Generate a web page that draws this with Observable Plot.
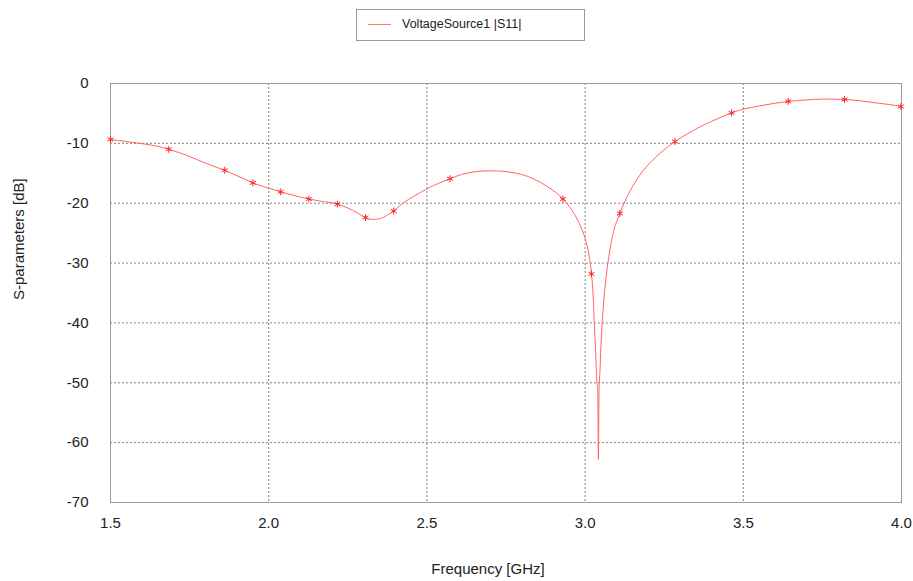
<!DOCTYPE html>
<html>
<head>
<meta charset="utf-8">
<script src="https://cdn.jsdelivr.net/npm/d3@7"></script>
<script src="https://cdn.jsdelivr.net/npm/@observablehq/plot@0.6"></script>
<style>
  body { margin: 0; background: #fff; font-family: "Liberation Sans", Arial, sans-serif; }
  #wrap { position: relative; width: 913px; }
  #legend { position: relative; height: 50px; }
  #legend .box { position: absolute; left: 356px; top: 9px; width: 229px; height: 32px; box-sizing: border-box; border: 1px solid #9a9a9a; background: #fff; }
  #legend .swatch { position: absolute; left: 11px; top: 14px; width: 23px; height: 0; border-top: 1px solid #ff7878; }
  #legend .label { position: absolute; left: 45px; top: 7px; font-size: 12.5px; color: #222; white-space: nowrap; }
</style>
</head>
<body>
<div id="wrap">
  <div id="legend"><div class="box"><div class="swatch"></div><div class="label"></div></div></div>
  <div id="chart"></div>
</div>
<script>
// Series name and axis labels
const seriesName = "VoltageSource1 |S11|";
const xLabel = "Frequency [GHz]";
const yLabel = "S-parameters [dB]";

// Tick values
const xTicks = [1.5, 2.0, 2.5, 3.0, 3.5, 4.0];
const yTicks = [0, -10, -20, -30, -40, -50, -60, -70];

// Curve samples (frequency in GHz, |S11| in dB)
const freq = [1.50, 1.55, 1.60, 1.65, 1.684, 1.72, 1.76, 1.80, 1.83, 1.861, 1.90, 1.95, 2.00, 2.038, 2.08, 2.127, 2.17, 2.217, 2.25, 2.28, 2.306, 2.327, 2.35, 2.375, 2.395, 2.424, 2.46, 2.50, 2.54, 2.573, 2.61, 2.65, 2.69, 2.72, 2.76, 2.80, 2.84, 2.88, 2.93, 2.96, 2.987, 3.002, 3.012, 3.020, 3.025, 3.029, 3.033, 3.037, 3.040, 3.042, 3.044, 3.047, 3.050, 3.054, 3.058, 3.064, 3.072, 3.084, 3.092, 3.101, 3.110, 3.125, 3.15, 3.18, 3.21, 3.24, 3.276, 3.284, 3.33, 3.38, 3.42, 3.463, 3.50, 3.55, 3.60, 3.642, 3.70, 3.75, 3.82, 3.87, 3.92, 3.96, 4.00];
const s11 = [-9.35, -9.7, -10.05, -10.5, -11.0, -11.6, -12.4, -13.3, -13.9, -14.5, -15.4, -16.6, -17.5, -18.1, -18.7, -19.3, -19.7, -20.15, -20.8, -21.6, -22.4, -22.7, -22.6, -22.0, -21.3, -20.0, -18.8, -17.6, -16.6, -15.9, -15.2, -14.75, -14.6, -14.6, -14.8, -15.2, -16.0, -17.2, -19.3, -21.3, -24.0, -26.2, -28.6, -31.8, -35.0, -40.0, -44.5, -49.5, -51.5, -62.8, -51.5, -48.0, -44.0, -40.0, -37.0, -33.5, -30.0, -26.2, -24.3, -22.9, -21.7, -19.8, -17.2, -14.8, -13.0, -11.5, -10.0, -9.7, -8.2, -6.8, -5.85, -4.9, -4.3, -3.75, -3.3, -3.0, -2.75, -2.6, -2.67, -2.9, -3.25, -3.5, -3.85];

// Asterisk markers along the curve
const markerFreq = [1.50, 1.684, 1.861, 1.950, 2.038, 2.127, 2.217, 2.306, 2.395, 2.573, 2.930, 3.020, 3.110, 3.284, 3.463, 3.642, 3.820, 3.998];
const markerDb = [-9.35, -11.0, -14.5, -16.6, -18.1, -19.3, -20.15, -22.4, -21.3, -15.9, -19.3, -31.8, -21.7, -9.7, -4.9, -3.0, -2.67, -3.85];

const curve = freq.map((f, i) => ({f, db: s11[i]}));
const markers = markerFreq.map((f, i) => ({f, db: markerDb[i]}));

document.querySelector("#legend .label").textContent = seriesName;

const gridStyle = {stroke: "#808080", strokeOpacity: 1, strokeDasharray: "2,2", strokeWidth: 1};

const chart = Plot.plot({
  width: 913,
  height: 531,
  marginTop: 33,
  marginBottom: 79,
  marginLeft: 110,
  marginRight: 12,
  style: {fontFamily: "'Liberation Sans', Arial, sans-serif", fontSize: "15px", color: "#222", background: "#fff"},
  x: {domain: [1.5, 4.0]},
  y: {domain: [-70, 0]},
  marks: [
    Plot.gridX(xTicks.slice(1, -1), gridStyle),
    Plot.gridY(yTicks.slice(1, -1), gridStyle),
    Plot.frame({stroke: "#9a9a9a", strokeWidth: 1}),
    Plot.axisX({ticks: xTicks, tickFormat: d3.format(".1f"), tickSize: 0, tickPadding: 15, label: null, fontSize: 15}),
    Plot.axisY({ticks: yTicks, tickFormat: d => String(d).replace("\u2212", "-"), tickSize: 0, tickPadding: 22, label: null, fontSize: 15}),
    Plot.text([xLabel], {frameAnchor: "bottom", dy: 71, dx: -18, fontSize: 15, fill: "#222"}),
    Plot.text([yLabel], {frameAnchor: "left", rotate: -90, dx: -91, dy: 7, fontSize: 15, fill: "#222"}),
    Plot.line(curve, {x: "f", y: "db", stroke: "#ff6464", strokeWidth: 1, curve: "monotone-x"}),
    Plot.dot(markers, {x: "f", y: "db", symbol: "asterisk", r: 3.2, stroke: "#ff2020", strokeWidth: 1})
  ]
});
document.getElementById("chart").appendChild(chart);
</script>
</body>
</html>
